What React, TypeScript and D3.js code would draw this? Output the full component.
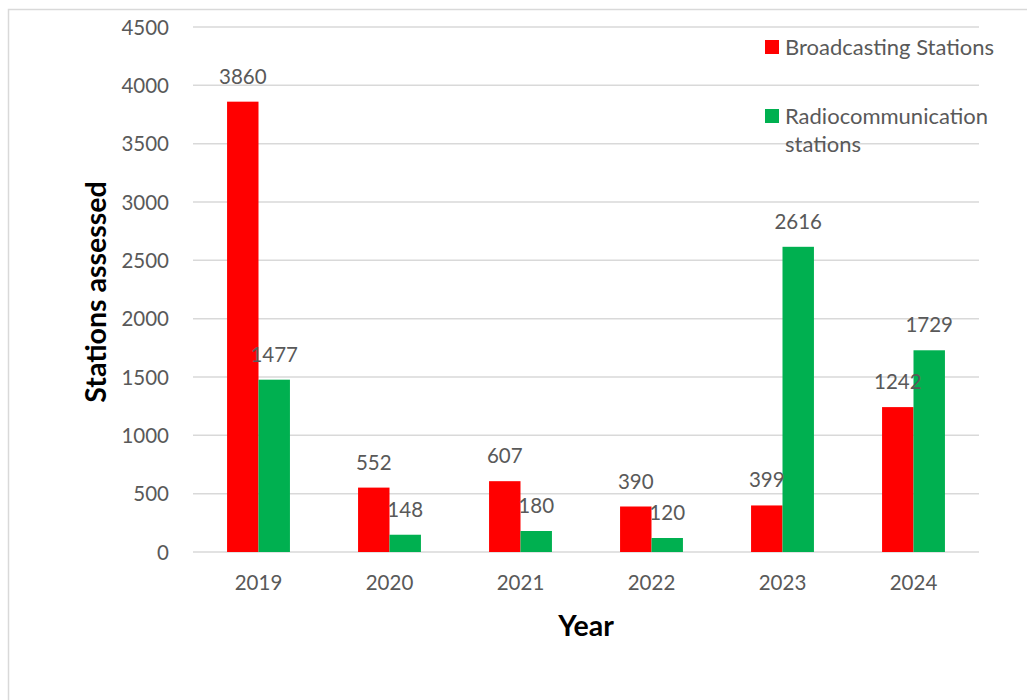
import { useEffect, useRef } from "react";
import * as d3 from "d3";

const years = ["2019", "2020", "2021", "2022", "2023", "2024"];
const broadcasting = [3860, 552, 607, 390, 399, 1242];
const radiocom = [1477, 148, 180, 120, 2616, 1729];
const yTicks = [0, 500, 1000, 1500, 2000, 2500, 3000, 3500, 4000, 4500];
const seriesNames = ["Broadcasting Stations", "Radiocommunication stations"];
const seriesColors = ["#ff0000", "#00b050"];

const W = 1027;
const H = 700;
const FONT = "Lato, 'Noto Sans', sans-serif";
const GREY = "#595959";

export default function App() {
  const svgRef = useRef<SVGSVGElement>(null);

  useEffect(() => {
    if (!svgRef.current) return;
    const svg = d3.select(svgRef.current);
    svg.selectAll("*").remove();

    const margin = { top: 27, right: 48, bottom: 148, left: 193 };
    const x0 = d3
      .scaleBand()
      .domain(years)
      .range([margin.left, W - margin.right])
      .paddingInner(0.52)
      .paddingOuter(0.26);
    const x1 = d3.scaleBand().domain(["b", "r"]).range([0, x0.bandwidth()]).padding(0);
    const y = d3.scaleLinear().domain([0, 4500]).range([H - margin.bottom, margin.top]);

    // outer frame
    svg
      .append("path")
      .attr("d", `M8.5,${H} V9.5 H${W}`)
      .attr("fill", "none")
      .attr("stroke", "#d9d9d9")
      .attr("stroke-width", 1.5);

    // gridlines
    svg
      .append("g")
      .selectAll("line")
      .data(yTicks)
      .enter()
      .append("line")
      .attr("x1", margin.left)
      .attr("x2", W - margin.right)
      .attr("y1", (d) => y(d))
      .attr("y2", (d) => y(d))
      .attr("stroke", "#d9d9d9")
      .attr("stroke-width", 1.5);

    // tick labels
    svg
      .append("g")
      .selectAll("text")
      .data(yTicks)
      .enter()
      .append("text")
      .attr("x", 169)
      .attr("y", (d) => y(d) + 7.5)
      .attr("text-anchor", "end")
      .attr("font-family", FONT)
      .attr("font-size", 20.5)
      .attr("fill", GREY)
      .text((d) => d);

    // bars
    const groups = svg
      .append("g")
      .selectAll("g")
      .data(years)
      .enter()
      .append("g")
      .attr("transform", (d) => `translate(${x0(d)},0)`);

    const rows = (i: number) => [
      { key: "b", v: broadcasting[i], c: seriesColors[0] },
      { key: "r", v: radiocom[i], c: seriesColors[1] },
    ];

    groups
      .selectAll("rect")
      .data((_, i) => rows(i))
      .enter()
      .append("rect")
      .attr("x", (d) => x1(d.key)!)
      .attr("y", (d) => y(d.v))
      .attr("width", x1.bandwidth())
      .attr("height", (d) => y(0) - y(d.v))
      .attr("fill", (d) => d.c);

    groups
      .selectAll("text")
      .data((_, i) => rows(i))
      .enter()
      .append("text")
      .attr("x", (d) => x1(d.key)! + x1.bandwidth() / 2)
      .attr("y", (d) => y(d.v) - 18)
      .attr("text-anchor", "middle")
      .attr("font-family", FONT)
      .attr("font-size", 20.5)
      .attr("fill", GREY)
      .text((d) => d.v);

    // year labels
    svg
      .append("g")
      .selectAll("text")
      .data(years)
      .enter()
      .append("text")
      .attr("x", (d) => x0(d)! + x0.bandwidth() / 2)
      .attr("y", 590)
      .attr("text-anchor", "middle")
      .attr("font-family", FONT)
      .attr("font-size", 20.5)
      .attr("fill", GREY)
      .text((d) => d);

    // axis titles
    svg
      .append("text")
      .attr("transform", "translate(106,292) rotate(-90)")
      .attr("text-anchor", "middle")
      .attr("font-family", FONT)
      .attr("font-weight", 700)
      .attr("font-size", 28.5)
      .attr("fill", "#000")
      .text("Stations assessed");

    svg
      .append("text")
      .attr("x", 586)
      .attr("y", 636)
      .attr("text-anchor", "middle")
      .attr("font-family", FONT)
      .attr("font-weight", 700)
      .attr("font-size", 28.5)
      .attr("fill", "#000")
      .text("Year");

    // legend
    const legend = svg.append("g");
    legend.append("rect").attr("x", 765).attr("y", 40).attr("width", 14).attr("height", 14).attr("fill", seriesColors[0]);
    legend
      .append("text")
      .attr("x", 785)
      .attr("y", 55)
      .attr("font-family", FONT)
      .attr("font-size", 22)
      .attr("fill", GREY)
      .text(seriesNames[0]);
    legend.append("rect").attr("x", 765).attr("y", 109).attr("width", 14).attr("height", 14).attr("fill", seriesColors[1]);
    const t2 = legend
      .append("text")
      .attr("font-family", FONT)
      .attr("font-size", 22)
      .attr("fill", GREY);
    t2.append("tspan").attr("x", 785).attr("y", 124).text("Radiocommunication");
    t2.append("tspan").attr("x", 785).attr("y", 152).text("stations");
  }, []);

  return (
    <div style={{ position: "absolute", left: 0, top: 0, background: "#fff" }}>
      <svg ref={svgRef} width={W} height={H} style={{ display: "block" }} />
    </div>
  );
}
